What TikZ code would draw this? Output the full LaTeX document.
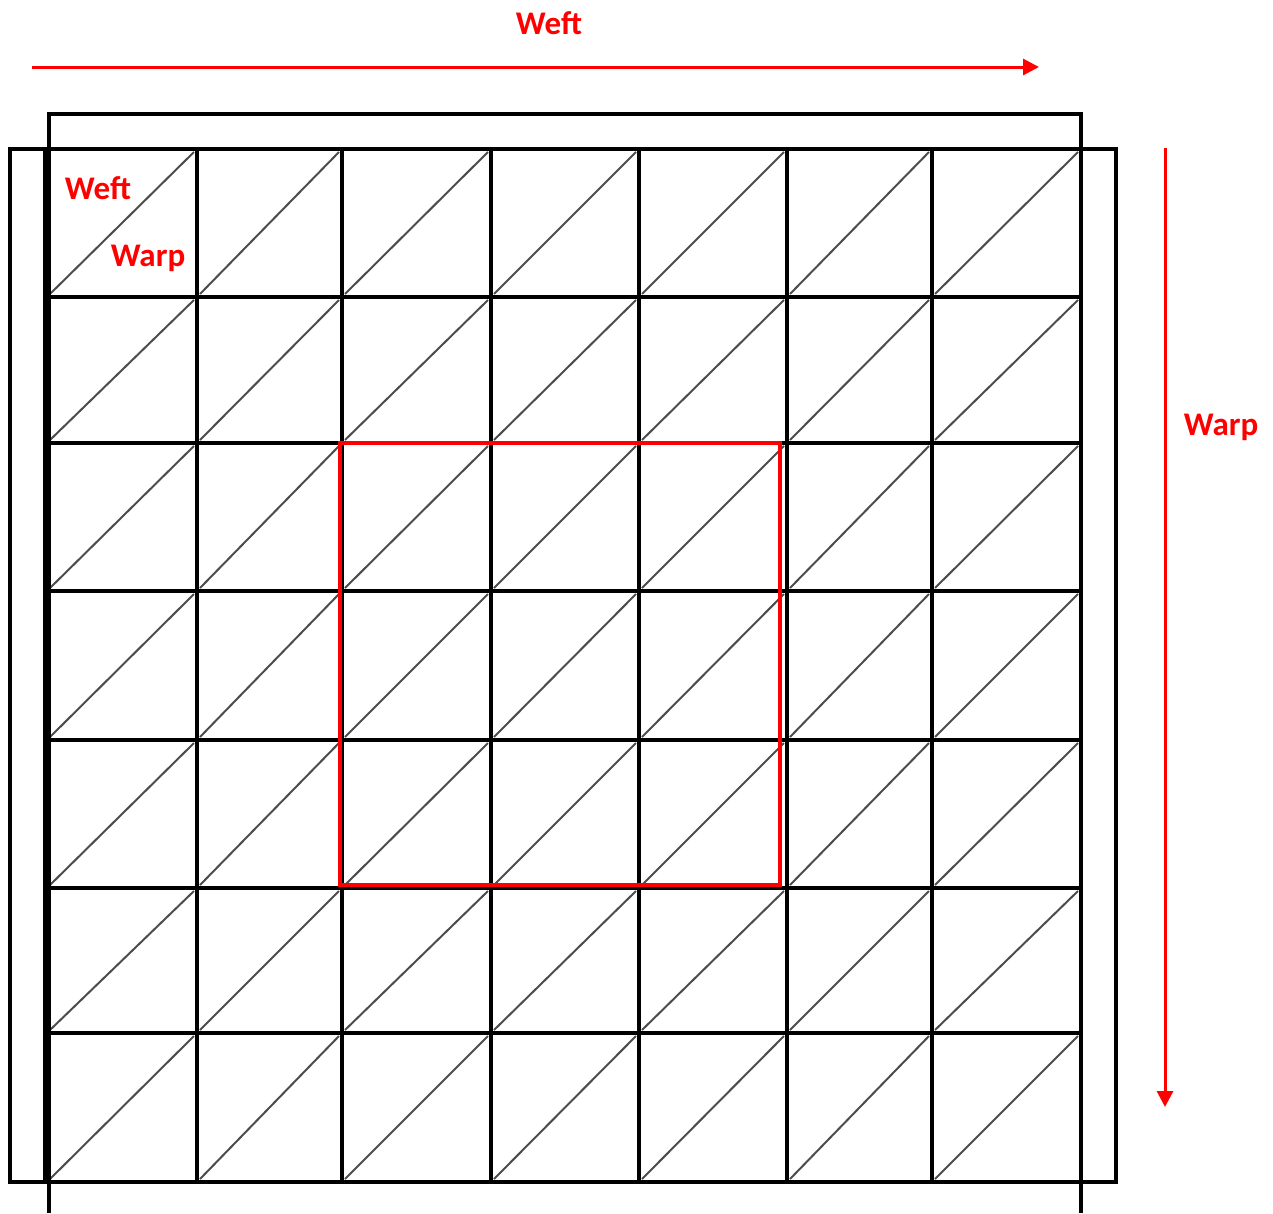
\documentclass[tikz,border=0pt]{standalone}
\usepackage{fontspec}
\setmainfont{Carlito}
\usetikzlibrary{arrows.meta}
\begin{document}
\begin{tikzpicture}[x=1pt,y=-1pt,
  frame/.style={line width=3.3pt,black},
  gridline/.style={line width=3.3pt,black},
  diag/.style={line width=2pt,black!70},
  redbox/.style={line width=3.3pt,red},
  dirarrow/.style={line width=3pt,red,-{Triangle[length=16pt,width=16pt]}},
  lbl/.style={text=red,font=\fontsize{33}{33}\selectfont\bfseries,inner sep=0pt}]
\useasboundingbox (0,0) rectangle (1273,1213);
% frames
\draw[frame] (10,149) rectangle (1116,1182);
\draw[frame] (49,1213) -- (49,114) -- (1081,114) -- (1081,1213);
% diagonals
\def\xs{{47,197,342,491,639,787,932,1081}}
\def\ys{{149,297,443,591,740,888,1033,1182}}
\foreach \i in {0,...,6}{
  \foreach \j in {0,...,6}{
    \pgfmathsetmacro{\xa}{\xs[\i]}
    \pgfmathsetmacro{\xb}{\xs[\i+1]}
    \pgfmathsetmacro{\ya}{\ys[\j]}
    \pgfmathsetmacro{\yb}{\ys[\j+1]}
    \draw[diag] (\xa+3,\yb-3) -- (\xb-3,\ya+3);
  }
}
% grid
\foreach \x in {197,342,491,639,787,932,1081}{
  \draw[gridline] (\x,149) -- (\x,1182);
}
\foreach \y in {149,297,443,591,740,888,1033,1182}{
  \draw[gridline] (47,\y) -- (1081,\y);
}
\draw[line width=7.5pt,black] (47,149) -- (47,1182);
% red box
\draw[redbox] (340,443) rectangle (780,885);
% arrows
\coordinate (wefts) at (32,67);
\coordinate (wefte) at (1039,67);
\coordinate (warps) at (1165,148);
\coordinate (warpe) at (1165,1107);
\draw[dirarrow] (wefts) -- (wefte);
\draw[dirarrow] (warps) -- (warpe);
% labels
\node[lbl] (tweft) at (549,23) {Weft};
\node[lbl] (rwarp) at (1221,427) {Warp};
\node[lbl] (cweft) at (98,188) {Weft};
\node[lbl] (cwarp) at (148,258) {Warp};
\end{tikzpicture}
\end{document}
